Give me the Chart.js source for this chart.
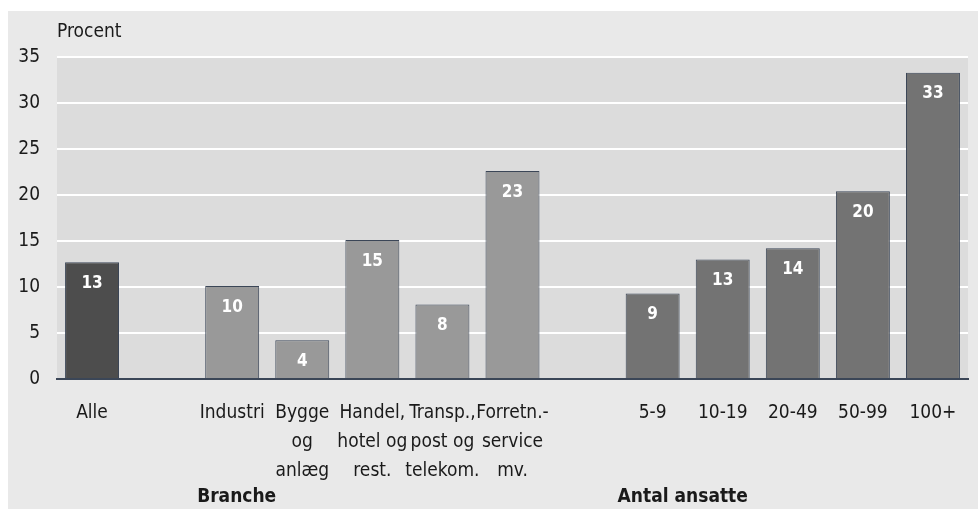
<!DOCTYPE html>
<html lang="da">
<head>
<meta charset="UTF-8">
<title>Procent</title>
<script src="https://cdn.jsdelivr.net/npm/chart.js@4.4.0/dist/chart.umd.min.js"></script>
<style>
  * { margin: 0; padding: 0; box-sizing: border-box; }
  body { background: #ffffff; width: 978px; height: 509px; overflow: hidden; }
  canvas { display: block; }
</style>
</head>
<body>
<canvas id="chart" width="978" height="509"></canvas>
<script>
// Kategorier (tomme pladser adskiller grupperne)
const kategorier = [
  'Alle', '',
  'Industri', ['Bygge', 'og', 'anlæg'], ['Handel,', 'hotel og', 'rest.'],
  ['Transp.,', 'post og', 'telekom.'], ['Forretn.-', 'service', 'mv.'], '',
  '5-9', '10-19', '20-49', '50-99', '100+'
];
const andel = [12.7, null, 10.1, 4.2, 15.1, 8.1, 22.6, null, 9.3, 13.0, 14.2, 20.4, 33.3];
const trykteTal = ['13', '', '10', '4', '15', '8', '23', '', '9', '13', '14', '20', '33'];
const gruppe = ['alle', '', 'branche', 'branche', 'branche', 'branche', 'branche', '', 'ansatte', 'ansatte', 'ansatte', 'ansatte', 'ansatte'];
const grupper = [
  { tekst: 'Branche', start: 2 },
  { tekst: 'Antal ansatte', start: 8 }
];
const yTicks = [0, 5, 10, 15, 20, 25, 30, 35];

const farver = { alle: '#4d4d4d', branche: '#999999', ansatte: '#737373', '': '#000000' };
const FONT = "'Liberation Sans Narrow', 'DejaVu Sans Condensed', 'Roboto Condensed', Roboto, sans-serif";
const TEKST = '#1a1a1a';

// Grå baggrund, plotflade, enhedstekst, gruppe- og værdietiketter
const tegning = {
  id: 'tegning',
  beforeDraw(chart) {
    const { ctx, chartArea: a } = chart;
    ctx.save();
    ctx.fillStyle = '#e9e9e9';
    ctx.fillRect(8, 11, chart.width - 8, chart.height - 11);
    ctx.fillStyle = '#dcdcdc';
    ctx.fillRect(a.left, a.top, a.right - a.left, a.bottom - a.top);
    ctx.restore();
  },
  afterDraw(chart) {
    const { ctx, chartArea: a, scales } = chart;
    ctx.save();
    ctx.fillStyle = TEKST;
    ctx.font = '19px ' + FONT;
    ctx.textBaseline = 'middle';
    ctx.textAlign = 'left';
    ctx.fillText('Procent', a.left, 32);

    // gruppetekster, venstrestillet ved pladsens venstre kant
    const slot = scales.x.getPixelForValue(1) - scales.x.getPixelForValue(0);
    ctx.font = 'bold 19px ' + FONT;
    grupper.forEach(g => {
      ctx.fillText(g.tekst, scales.x.getPixelForValue(g.start) - slot / 2, 497);
    });

    // værdier i søjlerne
    ctx.fillStyle = '#ffffff';
    ctx.font = 'bold 17px ' + FONT;
    ctx.textAlign = 'center';
    chart.getDatasetMeta(0).data.forEach((bar, i) => {
      if (andel[i] == null) return;
      ctx.fillText(trykteTal[i], bar.x, bar.y + 21);
    });
    ctx.restore();
  }
};

new Chart(document.getElementById('chart'), {
  type: 'bar',
  data: {
    labels: kategorier,
    datasets: [{
      data: andel,
      backgroundColor: gruppe.map(g => farver[g]),
      borderColor: '#3b4657',
      borderWidth: 1,
      barPercentage: 0.77,
      categoryPercentage: 1
    }]
  },
  options: {
    responsive: false,
    animation: false,
    devicePixelRatio: 1,
    layout: { padding: { top: 57, right: 10, left: 0, bottom: 0 } },
    plugins: { legend: { display: false }, tooltip: { enabled: false } },
    scales: {
      x: {
        grid: { display: false, drawTicks: false },
        border: { display: true, color: '#3b4657', width: 2 },
        ticks: {
          color: TEKST,
          font: { family: FONT, size: 19, lineHeight: 1.52 },
          padding: 20,
          maxRotation: 0,
          autoSkip: false
        },
        afterFit(s) { s.height = 130; }
      },
      y: {
        min: 0,
        max: 35,
        afterBuildTicks(s) { s.ticks = yTicks.map(v => ({ value: v })); },
        grid: {
          color: ctx => ctx.tick && ctx.tick.value === 0 ? 'rgba(0,0,0,0)' : '#ffffff',
          lineWidth: 2,
          drawTicks: false
        },
        border: { display: false },
        ticks: {
          color: TEKST,
          font: { family: FONT, size: 19 },
          padding: 17
        },
        afterFit(s) { s.width = 57; }
      }
    }
  },
  plugins: [tegning]
});
</script>
</body>
</html>
